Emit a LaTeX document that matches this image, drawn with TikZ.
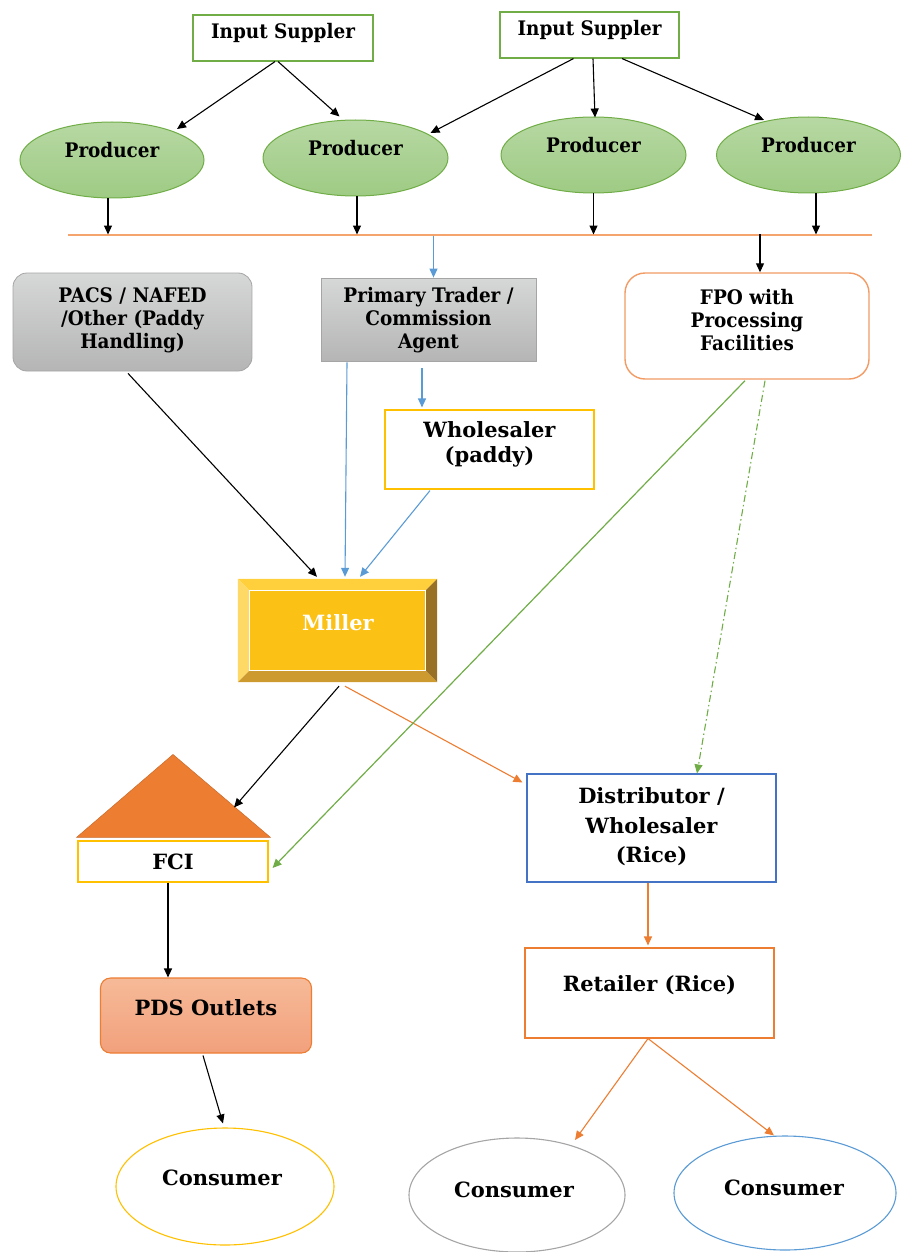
\documentclass[tikz,border=0pt]{standalone}
\usepackage{fontspec}
\usetikzlibrary{arrows.meta,shapes.geometric,calc}
\newfontfamily\lblfont{DejaVu Serif}[FakeStretch=0.92]
\newfontfamily\lblwide{DejaVu Serif}
\newcommand\lbfont{\lblfont\bfseries\fontsize{20}{23}\selectfont}
\newcommand\lwfont{\lblwide\bfseries\fontsize{21}{25}\selectfont}
\definecolor{cgreen}{HTML}{70AD47}
\definecolor{cgreenT}{HTML}{B7D8A3}
\definecolor{cgreenB}{HTML}{9ECB84}
\definecolor{cblue}{HTML}{5B9BD5}
\definecolor{cdblue}{HTML}{4472C4}
\definecolor{corange}{HTML}{ED7D31}
\definecolor{cfpo}{HTML}{F29B64}
\definecolor{cbus}{HTML}{F4A46C}
\definecolor{cyellow}{HTML}{FFC000}
\definecolor{cgray}{HTML}{A5A5A5}
\definecolor{cgrayT}{HTML}{D6D7D7}
\definecolor{cgrayB}{HTML}{B5B5B5}
\definecolor{cpdsT}{HTML}{F6BA98}
\definecolor{cpdsB}{HTML}{F2A07C}
\definecolor{mface}{HTML}{FBC115}
\definecolor{mtop}{HTML}{FFD03C}
\definecolor{mleft}{HTML}{FFD966}
\definecolor{mright}{HTML}{997126}
\definecolor{mbot}{HTML}{CC9A2E}
\begin{document}
\begin{tikzpicture}[x=1pt,y=-1pt,
  lbl/.style={font=\lbfont, align=center, inner sep=0pt},
  lblw/.style={font=\lwfont, align=center, inner sep=0pt},
  tip/.style={-{Triangle[length=9pt,width=8pt]}},
  arrK/.style={tip, draw=black, line width=1.1pt},
  arrB/.style={tip, draw=cblue, line width=1.1pt},
  arrO/.style={tip, draw=corange, line width=1.1pt},
  arrG/.style={tip, draw=cgreen, line width=1.2pt},
  supbox/.style={draw=cgreen, line width=1.1pt, fill=white, minimum height=46pt, inner sep=0pt},
  prod/.style={ellipse, draw=cgreen, line width=1pt, top color=cgreenT, bottom color=cgreenB, minimum width=184pt, minimum height=76pt, inner sep=0pt},
  graybox/.style={draw=cgray, line width=0.8pt, top color=cgrayT, bottom color=cgrayB, inner sep=0pt},
  plainbox/.style={line width=1.1pt, fill=white, inner sep=0pt},
  cons/.style={ellipse, line width=1.1pt, fill=white, inner sep=0pt}
]
\useasboundingbox (0,0) rectangle (901,1252);

% input suppliers
\node[supbox, minimum width=180pt] (s1) at (283,38) {};
\node[lbl] (s1t) at (283,33) {Input Suppler};
\node[supbox, minimum width=179pt] (s2) at (589.5,35) {};
\node[lbl] (s2t) at (589.5,30) {Input Suppler};

% producers
\node[prod] (p1) at (112,160) {};
\node[lbl] (p1t) at (112,150) {Producer};
\node[prod, minimum width=185pt] (p2) at (355.5,158) {};
\node[lbl] (p2t) at (355.5,148) {Producer};
\node[prod, minimum width=185pt] (p3) at (593.5,155) {};
\node[lbl] (p3t) at (593.5,145) {Producer};
\node[prod] (p4) at (808.5,155) {};
\node[lbl] (p4t) at (808.5,145) {Producer};

\draw[arrK] ($(s1.south)+(-8,0)$) -- ($(p1.center)+(65,-31)$);
\draw[arrK] ($(s1.south)+(-5,0)$) -- ($(p2.north)+(-16,-3)$);
\draw[arrK] ($(s2.south)+(-16,0)$) -- ($(p2.center)+(75,-25)$);
\draw[arrK] ($(s2.south)+(3.5,0)$) -- ($(p3.north)+(1.5,1)$);
\draw[arrK] ($(s2.south)+(32.5,0)$) -- ($(p4.center)+(-44.5,-35)$);

% bus line
\coordinate (busL) at (68,235);
\coordinate (busR) at (872,235);
\draw[cbus, line width=1.4pt] (busL) -- (busR);
\draw[arrK] ($(p1.south)+(-4,0)$) -- ++(0,36);
\draw[arrK] ($(p2.south)+(1.5,0)$) -- ++(0,38);
\draw[arrK] ($(p3.south)+(0,0)$) -- ++(0,41);
\draw[arrK] ($(p4.south)+(7.5,0)$) -- ++(0,41);

% second row
\node[graybox, rounded corners=14pt, minimum width=239pt, minimum height=98pt] (pacs) at (132.5,322) {};
\node[lbl] (pacst) at (132.5,320) {PACS / NAFED\\/Other (Paddy\\Handling)};
\node[graybox, minimum width=215pt, minimum height=83pt] (pt) at (428.5,319.5) {};
\node[lbl] (ptt) at (428.5,320) {Primary Trader /\\Commission\\Agent};
\node[plainbox, draw=cfpo, line width=1.4pt, rounded corners=20pt, minimum width=244pt, minimum height=106pt] (fpo) at (747,326) {};
\node[lbl] (fpot) at (747,320) {FPO with\\Processing\\Facilities};

\draw[arrB] ($(pt.north)+(5,-42)$) -- ($(pt.north)+(5,0)$);
\draw[arrK] ($(fpo.north)+(13,-38)$) -- ($(fpo.north)+(13,0)$);

% wholesaler paddy
\node[plainbox, draw=cyellow, minimum width=209pt, minimum height=79pt] (wh) at (489.5,449.5) {};
\node[lblw] (wht) at (489.5,444.5) {Wholesaler\\(paddy)};

% miller (bevel)
\node[minimum width=199pt, minimum height=103pt, inner sep=0pt] (miller) at (337.5,630.5) {};
\fill[mtop] (miller.north west) -- (miller.north east) -- ($(miller.north east)+(-12,12)$) -- ($(miller.north west)+(12,12)$) -- cycle;
\fill[mleft] (miller.north west) -- ($(miller.north west)+(12,12)$) -- ($(miller.south west)+(12,-12)$) -- (miller.south west) -- cycle;
\fill[mright] (miller.north east) -- (miller.south east) -- ($(miller.south east)+(-12,-12)$) -- ($(miller.north east)+(-12,12)$) -- cycle;
\fill[mbot] (miller.south west) -- (miller.south east) -- ($(miller.south east)+(-12,-12)$) -- ($(miller.south west)+(12,-12)$) -- cycle;
\draw[white, line width=1.3pt, fill=mface] ($(miller.north west)+(12,12)$) rectangle ($(miller.south east)+(-12,-12)$);
\node[lblw, text=white] (millert) at (338,623) {Miller};

\draw[arrK] ($(pacs.south)+(-4.5,2)$) -- ($(miller.north)+(-20.5,-2)$);
\draw[arrB] ($(pt.south)+(-81.5,1)$) -- ($(miller.north)+(7.5,-2)$);
\draw[arrB] ($(pt.south)+(-6.5,7)$) -- ($(wh.north)+(-67.5,-2)$);
\draw[arrB] ($(wh.south)+(-59.5,1)$) -- ($(miller.north)+(22.5,-2)$);

% FCI
\node[plainbox, draw=cyellow, minimum width=190pt, minimum height=41pt] (fci) at (173,861.5) {};
\filldraw[fill=corange, draw=corange!85!black, line width=0.5pt] ($(fci.north west)+(-1,-3)$) -- ($(fci.north)+(0,-86)$) -- ($(fci.north east)+(2,-3)$) -- cycle;
\node[lblw] (fcit) at (173,862) {FCI};

% distributor, retailer
\node[plainbox, draw=cdblue, minimum width=249pt, minimum height=108pt] (dist) at (651.5,828) {};
\node[lblw, font=\lblwide\bfseries\fontsize{21}{29.5}\selectfont] (distt) at (651.5,827) {Distributor /\\Wholesaler\\(Rice)};
\node[plainbox, draw=corange, minimum width=249pt, minimum height=90pt] (ret) at (649.5,993) {};
\node[lblw] (rett) at (649.5,985) {Retailer (Rice)};

\draw[arrK] ($(miller.south)+(1.5,4)$) -- ($(fci.north)+(61,-33)$);
\draw[arrO] ($(miller.south)+(7.5,4)$) -- ($(dist.north west)+(-4,9)$);
\draw[arrG] ($(fpo.south)+(-2,1)$) -- ($(fci.east)+(4,6.5)$);
\draw[tip, draw=cgreen, line width=1.1pt, dash pattern=on 7pt off 3pt on 1.5pt off 3pt] ($(fpo.south)+(18,1)$) -- ($(dist.north)+(45.5,0)$);
\draw[arrO] ($(dist.south)+(-3.5,0)$) -- ($(ret.north)+(-1.5,-2)$);

% PDS
\node[draw=corange, line width=1.1pt, rounded corners=10pt, top color=cpdsT, bottom color=cpdsB, minimum width=211pt, minimum height=75pt, inner sep=0pt] (pds) at (206,1015.5) {};
\node[lblw] (pdst) at (206,1008) {PDS Outlets};
\draw[arrK] ($(fci.south)+(-5,0)$) -- ($(pds.north)+(-38,0)$);

% consumers
\node[cons, draw=cyellow, minimum width=218pt, minimum height=117pt] (c1) at (225,1186.5) {};
\node[lblw] (c1t) at (222,1178) {Consumer};
\node[cons, draw=cgray, minimum width=216pt, minimum height=114pt] (c2) at (517,1195) {};
\node[lblw] (c2t) at (514,1190) {Consumer};
\node[cons, draw=cblue, minimum width=222pt, minimum height=114pt] (c3) at (785,1193) {};
\node[lblw] (c3t) at (784,1188) {Consumer};

\draw[arrK] ($(pds.south)+(-3,2)$) -- ($(c1.north)+(-2,-4)$);
\draw[arrO] ($(ret.south)+(-1.5,0)$) -- ($(c2.center)+(58,-55)$);
\draw[arrO] ($(ret.south)+(-1.5,0)$) -- ($(c3.north)+(-11,0)$);
\end{tikzpicture}
\end{document}
